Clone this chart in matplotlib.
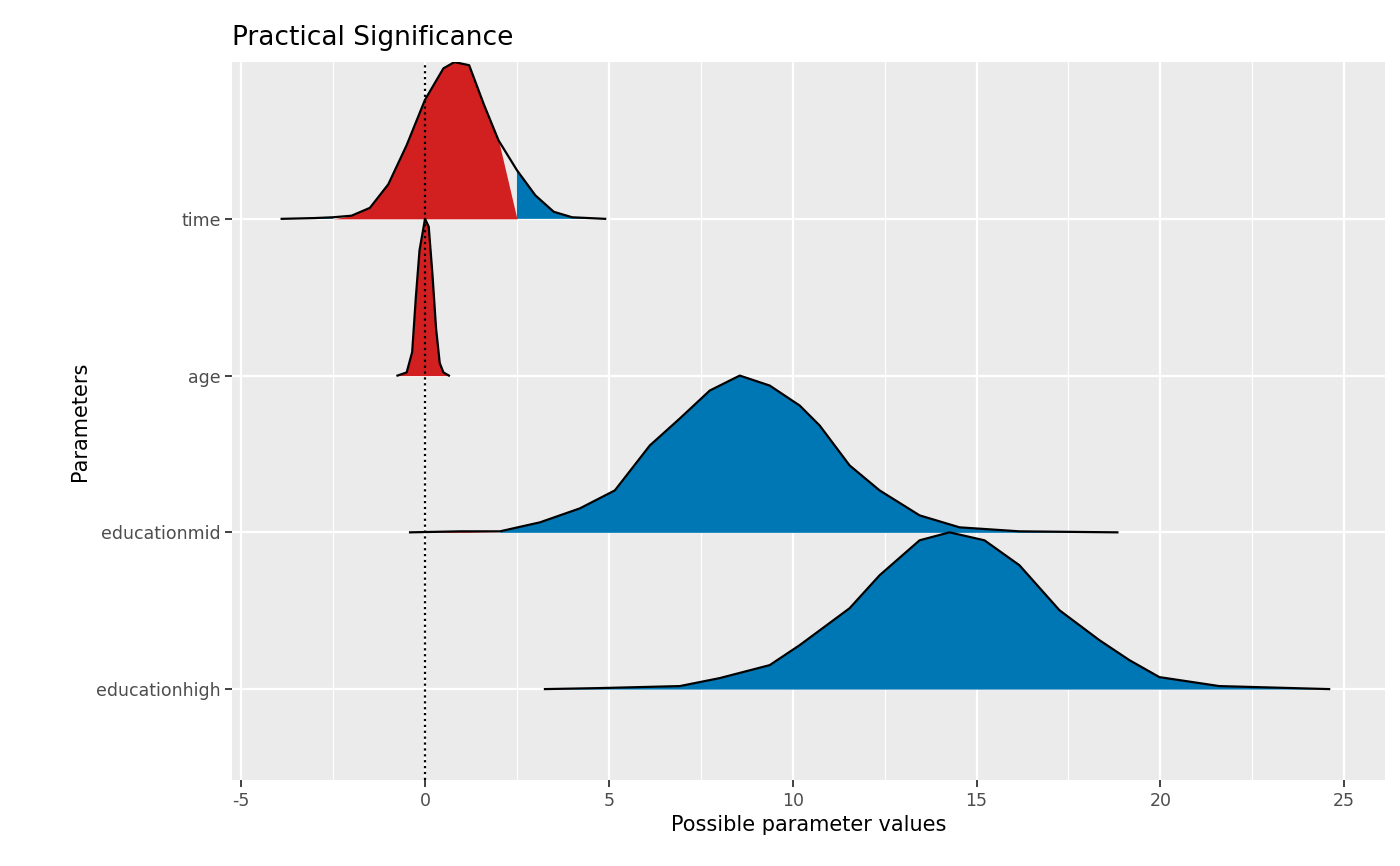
#!/usr/bin/env python3
#! coding:utf-8
import numpy as np
import matplotlib.pyplot as plt


def ridges():
    '''
    '''
    # (px, py), converted to data units below
    _name = ['educationhigh', 'educationmid', 'age', 'time']
    _x = {'time': [-3.9, -3.0, -2.5, -2.0, -1.5, -1.0, -0.5, 0.0, 0.5, 0.8, 1.2, 1.6, 2.0, 2.5, 3.0, 3.5, 4.0, 4.9],
          'age': [-0.75, -0.5, -0.35, -0.25, -0.15, 0.0, 0.1, 0.2, 0.3, 0.4, 0.5, 0.65]}
    _h = {'time': [0, 0.005, 0.01, 0.02, 0.07, 0.22, 0.47, 0.76, 0.96, 1.0, 0.98, 0.73, 0.5, 0.31, 0.15, 0.045, 0.01, 0],
          'age': [0, 0.02, 0.15, 0.5, 0.8, 1.0, 0.95, 0.65, 0.3, 0.08, 0.02, 0]}
    mid = [(410, 532), (460, 531), (500, 531), (540, 522), (580, 508), (615, 490), (650, 445), (680, 418),
           (710, 390), (740, 375), (770, 385), (800, 405), (820, 425), (850, 465), (880, 490), (920, 515),
           (960, 527), (1020, 531), (1118, 532)]
    high = [(545, 689), (600, 688), (680, 686), (720, 678), (770, 665), (800, 645), (850, 608), (880, 575),
            (920, 540), (950, 532), (985, 540), (1020, 565), (1060, 610), (1100, 640), (1130, 660),
            (1160, 677), (1220, 686), (1330, 689)]
    _x['educationmid'] = [(px-425)/36.8 for px, py in mid]
    _h['educationmid'] = [(532-py)/157 for px, py in mid]
    _x['educationhigh'] = [(px-425)/36.8 for px, py in high]
    _h['educationhigh'] = [(689-py)/157 for px, py in high]

    fig = plt.figure(figsize=(14, 8.66), dpi=100)
    ax = fig.add_axes([0.166, 0.0993, 0.823, 0.829])
    ax.set_facecolor('#EBEBEB')
    for s in ax.spines.values():
        s.set_visible(False)
    ax.set_axisbelow(True)
    ax.grid(which='major', color='white', linewidth=1.6)
    ax.set_xticks([-2.5, 2.5, 7.5, 12.5, 17.5, 22.5], minor=True)
    ax.grid(which='minor', axis='x', color='white', linewidth=0.8)
    ax.tick_params(which='minor', length=0)

    for n in range(len(_name)-1, -1, -1):
        name = _name[n]
        base = n+1
        x = np.array(_x[name])
        y = base+np.array(_h[name])
        z = 10+(4-n)
        inside = (x >= -2) & (x <= 2)
        ax.fill_between(x, base, y, where=inside, color='#D22020', interpolate=True, lw=0, zorder=z)
        ax.fill_between(x, base, y, where=~inside, color='#0077B5', interpolate=True, lw=0, zorder=z)
        ax.plot(x, y, color='black', lw=1.6, zorder=z)

    ax.axvline(0, color='black', linestyle=':', lw=1.6, zorder=20)
    ax.set_xlim(-5.24, 26.1)
    ax.set_ylim(0.42, 5.0)
    ax.set_xticks([-5, 0, 5, 10, 15, 20, 25])
    ax.set_xticklabels(['-5', '0', '5', '10', '15', '20', '25'])
    ax.set_yticks([1, 2, 3, 4])
    ax.set_yticklabels(_name)
    ax.tick_params(which='major', length=5, width=1.3, color='#333333', labelcolor='#4D4D4D', labelsize=12.5)
    ax.set_xlabel('Possible parameter values', fontsize=15)
    ax.set_ylabel('Parameters', fontsize=15)
    ax.set_title('Practical Significance', fontsize=19, loc='left', pad=12)

    plt.savefig('out.png')
    plt.close()


if __name__ == '__main__':
    ridges()
